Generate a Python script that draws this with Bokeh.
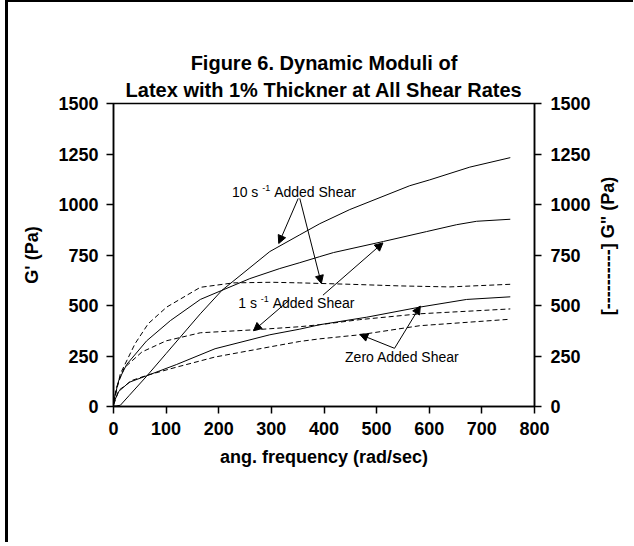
from math import pi
from bokeh.plotting import figure
from bokeh.layouts import row
from bokeh.models import Range1d, LinearAxis, FixedTicker, Label, Arrow, NormalHead, Title
from bokeh.core.properties import value
from bokeh.embed import file_html
from bokeh.resources import INLINE

# ---------------- data ----------------
# G' (storage modulus) curves -- solid
x_gp_10 = [0.6, 5, 13, 30, 63, 100, 165, 206, 297, 354, 392, 449, 563, 601, 677, 754]
y_gp_10 = [2, 3, 6, 55, 150, 262, 459, 575, 767, 850, 905, 975, 1093, 1122, 1185, 1232]

x_gp_1 = [0.6, 10, 25, 63, 108, 165, 206, 259, 316, 354, 392, 418, 513, 595, 652, 690, 754]
y_gp_1 = [30, 130, 208, 325, 425, 530, 575, 633, 683, 712, 742, 762, 817, 866, 900, 917, 927]

x_gp_0 = [0.6, 10, 30, 63, 120, 193, 297, 354, 392, 481, 582, 671, 754]
y_gp_0 = [20, 75, 120, 152, 208, 286, 355, 383, 405, 442, 492, 530, 543]

# G'' (loss modulus) curves -- dashed
x_gpp_10 = [0.6, 3, 13, 41, 66, 101, 165, 228, 300, 354, 450, 544, 639, 754]
y_gpp_10 = [20, 46, 162, 311, 410, 492, 590, 612, 615, 612, 605, 597, 592, 605]

x_gpp_1 = [0.6, 5, 20, 54, 100, 165, 269, 354, 392, 468, 582, 754]
y_gpp_1 = [15, 90, 190, 270, 325, 365, 380, 395, 405, 430, 459, 483]

x_gpp_0 = [0.6, 10, 35, 63, 120, 193, 297, 354, 392, 468, 582, 754]
y_gpp_0 = [10, 80, 129, 154, 195, 245, 295, 322, 335, 355, 400, 432]

x_ticks = [0, 100, 200, 300, 400, 500, 600, 700, 800]
y_ticks = [0, 250, 500, 750, 1000, 1250, 1500]

title_lines = ["Figure 6. Dynamic Moduli of", "Latex with 1% Thickner at All Shear Rates"]
x_label = "ang. frequency (rad/sec)"
y_label_left = "G' (Pa)"
y_label_right = '[----------] G" (Pa)'

# annotation texts: lead part, superscript, tail, anchor (data units)
ann_lead = ["10 s", "1 s"]
ann_sup = ["-1", "-1"]
ann_tail = ["Added Shear", "Added Shear"]
ann_x = [225, 237]
ann_y = [1060, 511]
zero_text = "Zero Added Shear"
zero_x, zero_y = 440, 246

# arrows (data units): start -> tip
arr_x0 = [351, 354, 334, 398, 534, 534]
arr_y0 = [1030, 1030, 527, 551, 288, 288]
arr_x1 = [314, 395, 266, 512, 468, 583]
arr_y1 = [807, 609, 375, 810, 357, 497]

FONT = "Liberation Sans"
H = 540

p = figure(frame_width=421, frame_height=303,
           min_border_left=105, min_border_right=58,
           min_border_top=101, min_border_bottom=H - 101 - 303,
           x_range=Range1d(0, 800), y_range=Range1d(0, 1500),
           output_backend="svg", toolbar_location=None,
           x_axis_label=x_label, y_axis_label=y_label_left)
p.xgrid.visible = False
p.ygrid.visible = False
p.outline_line_color = "black"
p.outline_line_width = 1.5
p.background_fill_color = "white"
p.border_fill_color = "white"

right = LinearAxis()
p.add_layout(right, "right")

p.xaxis[0].ticker = FixedTicker(ticks=x_ticks)
p.yaxis[0].ticker = FixedTicker(ticks=y_ticks)
right.ticker = FixedTicker(ticks=y_ticks)

for ax in [p.xaxis[0], p.yaxis[0], right]:
    ax.major_tick_out = 7
    ax.major_tick_in = 0
    ax.minor_tick_out = 0
    ax.minor_tick_in = 0
    ax.axis_line_width = 1.5
    ax.major_tick_line_width = 1.5
    ax.major_label_text_font = FONT
    ax.major_label_text_font_style = "bold"
    ax.major_label_text_font_size = "18px"
    ax.major_label_text_color = "black"
    ax.axis_label_text_font = FONT
    ax.axis_label_text_font_style = "bold"
    ax.axis_label_text_font_size = "18px"
    ax.axis_label_text_color = "black"

p.xaxis[0].major_label_standoff = 8
p.xaxis[0].axis_label_standoff = 9
p.yaxis[0].major_label_standoff = 8
p.yaxis[0].axis_label_standoff = 13
right.major_label_standoff = 9

# title lines (line 2 added first: it sits next to the frame)
p.add_layout(Title(text=title_lines[1], align="center", text_font=FONT, text_font_style="bold",
                   text_font_size="20px", text_color="black", standoff=6), "above")
p.add_layout(Title(text=title_lines[0], align="center", text_font=FONT, text_font_style="bold",
                   text_font_size="20px", text_color="black", standoff=0), "above")

# curves
for xs, ys in [(x_gp_10, y_gp_10), (x_gp_1, y_gp_1), (x_gp_0, y_gp_0)]:
    p.line(xs, ys, line_color="black", line_width=1)
for xs, ys in [(x_gpp_10, y_gpp_10), (x_gpp_1, y_gpp_1), (x_gpp_0, y_gpp_0)]:
    p.line(xs, ys, line_color="black", line_width=1, line_dash="5 3")

# annotations
FS = 14
SUP = 9
em = {"1": 0.556, "0": 0.556, " ": 0.278, "s": 0.5, "-": 0.333}
for lead, sup, tail, ax_, ay_ in zip(ann_lead, ann_sup, ann_tail, ann_x, ann_y):
    w_lead = sum(em[c] for c in lead) * FS
    off_sup = w_lead + 0.278 * FS
    w_sup = sum(em[c] for c in sup) * SUP
    off_tail = off_sup + w_sup + 0.278 * FS
    p.add_layout(Label(x=ax_, y=ay_, text=lead, text_font=FONT, text_font_size=f"{FS}px",
                       text_baseline="middle", text_align="left", text_color="black"))
    p.add_layout(Label(x=ax_, y=ay_, x_offset=off_sup, y_offset=4, text=sup, text_font=FONT,
                       text_font_size=f"{SUP}px", text_baseline="middle", text_align="left",
                       text_color="black"))
    p.add_layout(Label(x=ax_, y=ay_, x_offset=off_tail, text=tail, text_font=FONT,
                       text_font_size=f"{FS}px", text_baseline="middle", text_align="left",
                       text_color="black"))
p.add_layout(Label(x=zero_x, y=zero_y, text=zero_text, text_font=FONT, text_font_size=f"{FS}px",
                   text_baseline="middle", text_align="left", text_color="black"))

for x0, y0, x1, y1 in zip(arr_x0, arr_y0, arr_x1, arr_y1):
    p.add_layout(Arrow(x_start=x0, y_start=y0, x_end=x1, y_end=y1, line_width=1, line_color="black",
                       end=NormalHead(size=8, fill_color="black", line_color="black", line_width=1)))

# narrow strip on the right carrying the G'' axis title (reads bottom-to-top)
W2 = 40
p2 = figure(width=W2, height=H, x_range=Range1d(0, W2), y_range=Range1d(0, H),
            min_border=0, x_axis_location=None, y_axis_location=None,
            output_backend="svg", toolbar_location=None)
p2.xgrid.visible = False
p2.ygrid.visible = False
p2.outline_line_color = None
p2.background_fill_color = "white"
p2.border_fill_color = "white"
p2.text(x=[14], y=[H - 254], text=[y_label_right], angle=pi / 2,
        text_align="center", text_baseline="middle", text_font=value(FONT),
        text_font_style="bold", text_font_size="18px", text_color="black")

layout = row(p, p2)
layout.styles = {"border-left": "3px solid black", "border-top": "2px solid black",
                 "margin-left": "5px"}
open("out.html", "w").write(file_html(layout, INLINE))
